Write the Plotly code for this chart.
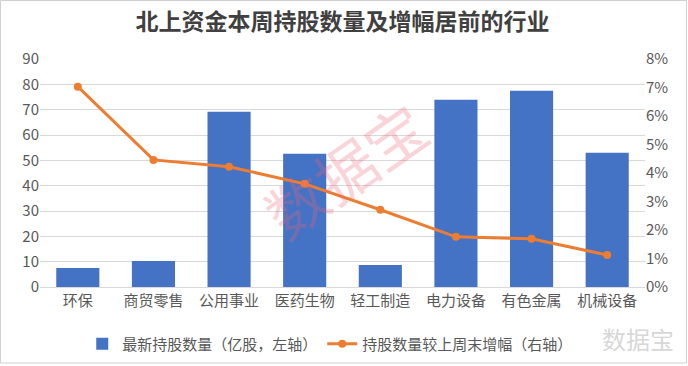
import plotly.graph_objects as go

categories = ["环保", "商贸零售", "公用事业", "医药生物", "轻工制造", "电力设备", "有色金属", "机械设备"]
holdings = [7.5, 10.3, 69.2, 52.6, 8.7, 73.9, 77.5, 53.0]          # 亿股
growth_pct = [7.03, 4.46, 4.22, 3.62, 2.71, 1.76, 1.69, 1.12]      # %

bar_name = "最新持股数量（亿股，左轴）"
line_name = "持股数量较上周末增幅（右轴）"
title_text = "北上资金本周持股数量及增幅居前的行业"

font_cjk = "Noto Sans CJK SC, Microsoft YaHei, sans-serif"

fig = go.Figure()
fig.add_trace(go.Bar(
    x=categories, y=holdings, name=bar_name,
    marker=dict(color="#4472C4", line=dict(width=0)),
    yaxis="y",
))
fig.add_trace(go.Scatter(
    x=categories, y=[v / 100 for v in growth_pct], name=line_name,
    mode="lines+markers",
    line=dict(color="#ED7D31", width=3),
    marker=dict(color="#ED7D31", size=8),
    yaxis="y2",
))

fig.update_layout(
    width=688, height=366,
    margin=dict(l=40, r=43, t=59, b=79, autoexpand=False),
    paper_bgcolor="white", plot_bgcolor="white",
    font=dict(family=font_cjk, size=15, color="#595959"),
    title=dict(text=title_text, x=0.5, xanchor="center", xref="paper",
               y=1 - 22/366, yref="container", yanchor="middle",
               font=dict(family=font_cjk, size=23, color="#404040", weight="bold")),
    bargap=0.43,
    showlegend=True,
    legend=dict(orientation="h", x=0.48, xref="container", xanchor="center",
                y=22/366, yref="container", yanchor="middle",
                font=dict(size=15, color="#595959"), traceorder="normal",
                itemwidth=30),
    xaxis=dict(showgrid=False, showline=True, linecolor="#d9d9d9", linewidth=1,
               ticks="", tickfont=dict(size=15, color="#595959")),
    yaxis=dict(range=[0, 90], dtick=10, showgrid=True, gridcolor="#d9d9d9",
               zeroline=False, ticks="", tickfont=dict(size=15, color="#595959")),
    yaxis2=dict(range=[0, 0.08], dtick=0.01, tickformat=".0%", overlaying="y", side="right",
                showgrid=False, zeroline=False, ticks="", tickfont=dict(size=15, color="#595959")),
    annotations=[
        dict(text="数据宝", x=(344 - 40)/605, y=(287 - 168)/228, xref="paper", yref="paper",
             showarrow=False, xanchor="center", yanchor="middle",
             textangle=-35, font=dict(family=font_cjk, size=60, color="rgba(240,100,120,0.28)")),
        dict(text="数据宝", x=(676 - 40)/605, y=-(338 - 287)/228, xref="paper", yref="paper",
             showarrow=False, xanchor="right", yanchor="middle",
             font=dict(family=font_cjk, size=24, color="rgba(210,210,210,0.9)")),
    ],
)
fig.add_shape(type="rect", xref="paper", yref="paper",
              x0=-40/605 + 0.5/605, x1=1 + 43/605 - 1.5/605,
              y0=-79/228 + 3/228, y1=1 + 59/228 - 0.5/228,
              line=dict(color="#d0d0d0", width=1))

fig.write_html("out.html", config={"displayModeBar": False},
               post_script="document.body.style.margin='0';document.body.style.overflow='hidden';")
